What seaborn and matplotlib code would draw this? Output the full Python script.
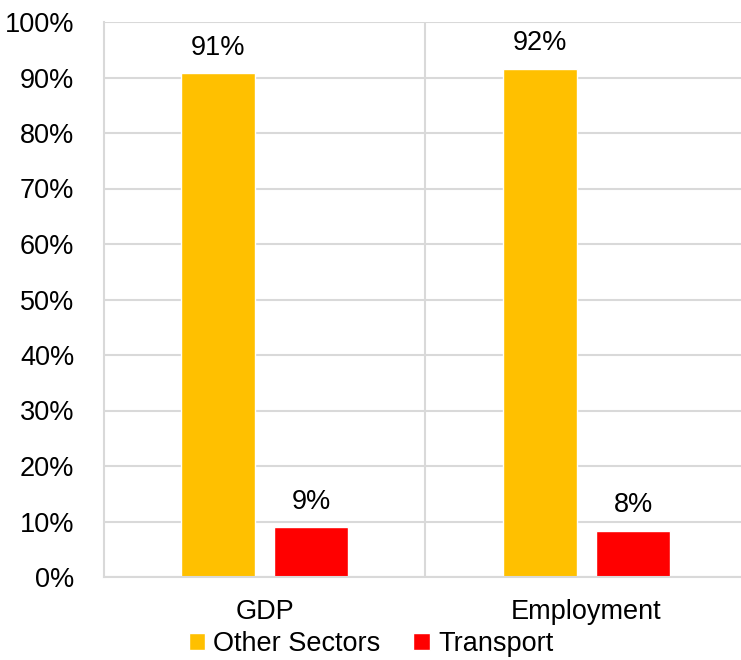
import numpy as np
import pandas as pd
import seaborn as sns
from matplotlib import pyplot as plt

# podaci sa slike
categories = ["GDP", "Employment"]
sectors = ["Other Sectors", "Transport"]
other_vals = [90.8, 91.6]
transport_vals = [9.0, 8.3]
colors = ["#FFC000", "#FF0000"]

df = pd.DataFrame({
    "category": categories * 2,
    "sector": [sectors[0]] * 2 + [sectors[1]] * 2,
    "value": other_vals + transport_vals,
})

sns.set_style("white")
plt.rcParams["font.family"] = ["Liberation Sans", "DejaVu Sans"]
plt.rcParams["text.color"] = "black"
plt.rcParams["xtick.color"] = "black"
plt.rcParams["ytick.color"] = "black"

fs = 19.5

fig = plt.figure(figsize=(7.41, 6.6), dpi=100)
ax = fig.add_axes([103.5/741, 1-577/660, 637.5/741, 555/660])

sns.barplot(data=df, x="category", y="value", hue="sector", palette=colors,
            saturation=1, width=0.58, gap=0.207, ax=ax, legend=True)

for cont in ax.containers:
    ax.bar_label(cont, labels=[f"{v:.0f}%" for v in cont.datavalues],
                 padding=9, fontsize=fs, color="black")

ax.set_ylim(0, 100)
ax.set_xlim(-0.5, 1.48)
ax.set_yticks(np.arange(0, 101, 10))
ax.set_yticklabels([f"{t}%" for t in range(0, 101, 10)])
ax.tick_params(axis="both", labelsize=fs, length=0, labelcolor="black")
ax.tick_params(axis="y", pad=21)
ax.tick_params(axis="x", pad=16)
ax.set_xlabel("")
ax.set_ylabel("")

ax.yaxis.grid(True, color="#D9D9D9", lw=1.5)
ax.axvline(0.5, color="#D9D9D9", lw=1.5, zorder=0)
ax.set_axisbelow(True)
for s in ["top", "right"]:
    ax.spines[s].set_visible(False)
for s in ["left", "bottom"]:
    ax.spines[s].set_color("#D9D9D9")
    ax.spines[s].set_linewidth(1.5)

ax.legend_.remove()
handles, labels = ax.get_legend_handles_labels()
fig.legend(handles, labels, loc="center", bbox_to_anchor=(371/741, 1-644/660),
           ncol=2, frameon=False, fontsize=fs, handlelength=0.62, handleheight=0.62,
           handletextpad=0.3, columnspacing=1.2, borderpad=0, borderaxespad=0)

fig.savefig("out.png", dpi=100)
